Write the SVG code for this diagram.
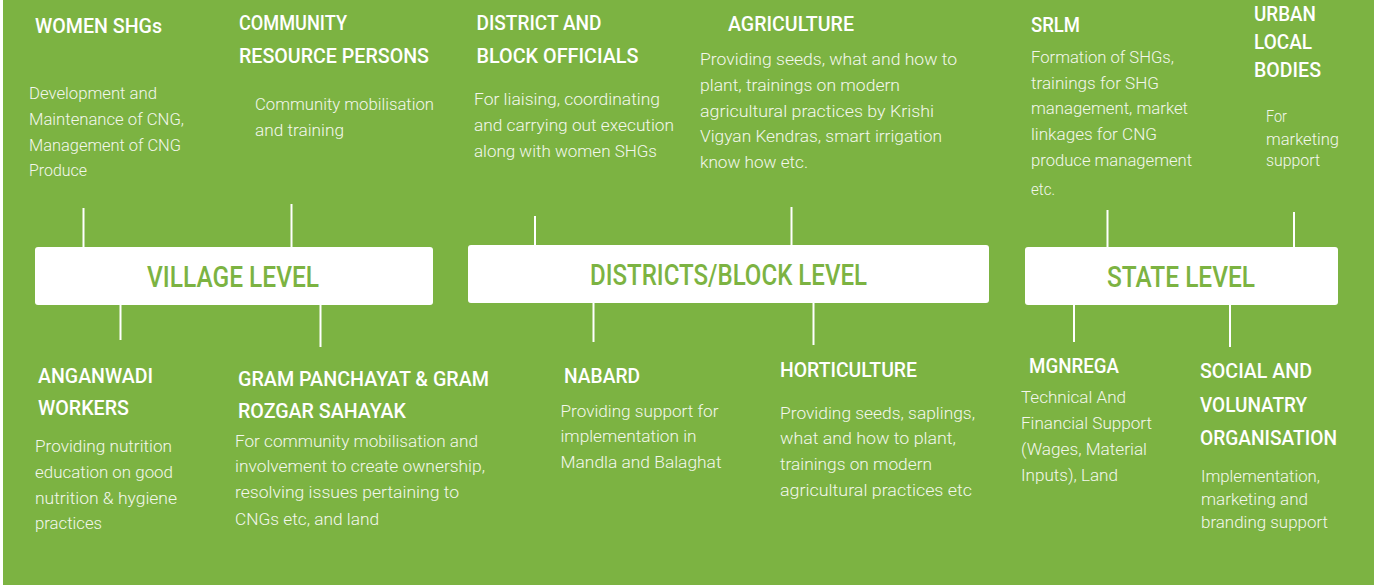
<svg xmlns="http://www.w3.org/2000/svg" width="1374" height="586" viewBox="0 0 1374 586">
<style>
.bg{fill:#7cb342}
.box{fill:#ffffff}
.h{font-family:Roboto,"Liberation Sans",sans-serif;font-weight:500;font-size:21px;fill:#ffffff}
.b{font-family:Roboto,"Liberation Sans",sans-serif;font-weight:300;font-size:17px;fill:#f3f7ec}
.lv{font-family:Roboto,"Liberation Sans",sans-serif;font-weight:500;font-size:29px;fill:#7cb342}
.c line{stroke:#ffffff;stroke-width:2}
</style>
<rect x="0" y="0" width="1374" height="586" fill="#ffffff"/>
<rect class="bg" x="3" y="0" width="1371" height="585"/>

<g class="c" id="connectors">
<line x1="83.5" y1="208" x2="83.5" y2="247"/>
<line x1="291.5" y1="204" x2="291.5" y2="247"/>
<line x1="120.5" y1="305" x2="120.5" y2="340"/>
<line x1="320.5" y1="305" x2="320.5" y2="347"/>
<line x1="535" y1="216" x2="535" y2="245"/>
<line x1="791.5" y1="207" x2="791.5" y2="245"/>
<line x1="593.5" y1="303" x2="593.5" y2="342"/>
<line x1="813.5" y1="303" x2="813.5" y2="345"/>
<line x1="1107.5" y1="210" x2="1107.5" y2="247"/>
<line x1="1294" y1="212" x2="1294" y2="247"/>
<line x1="1074" y1="305" x2="1074" y2="342"/>
<line x1="1230" y1="305" x2="1230" y2="347"/>
</g>

<g id="village-level">
<rect class="box" x="35" y="247" width="398" height="58" rx="3"/>
<text class="lv" x="147" y="287" textLength="172" lengthAdjust="spacingAndGlyphs">VILLAGE LEVEL</text>
</g>
<g id="district-level">
<rect class="box" x="468" y="245" width="521" height="58" rx="3"/>
<text class="lv" x="590" y="285" textLength="277" lengthAdjust="spacingAndGlyphs">DISTRICTS/BLOCK LEVEL</text>
</g>
<g id="state-level">
<rect class="box" x="1025" y="247" width="313" height="58" rx="3"/>
<text class="lv" x="1107" y="287" textLength="148" lengthAdjust="spacingAndGlyphs">STATE LEVEL</text>
</g>

<g id="women-shgs">
<text class="h" x="35" y="33" textLength="127" lengthAdjust="spacingAndGlyphs">WOMEN SHGs</text>
<text class="b" x="29" y="99" textLength="128" lengthAdjust="spacingAndGlyphs">Development and</text>
<text class="b" x="29" y="125" textLength="155" lengthAdjust="spacingAndGlyphs">Maintenance of CNG,</text>
<text class="b" x="29" y="151" textLength="152" lengthAdjust="spacingAndGlyphs">Management of CNG</text>
<text class="b" x="29" y="176" textLength="58" lengthAdjust="spacingAndGlyphs">Produce</text>
</g>

<g id="community-resource-persons">
<text class="h" x="239" y="30" textLength="108" lengthAdjust="spacingAndGlyphs">COMMUNITY</text>
<text class="h" x="239" y="63" textLength="190" lengthAdjust="spacingAndGlyphs">RESOURCE PERSONS</text>
<text class="b" x="255" y="110" textLength="179" lengthAdjust="spacingAndGlyphs">Community mobilisation</text>
<text class="b" x="255" y="136" textLength="89" lengthAdjust="spacingAndGlyphs">and training</text>
</g>

<g id="district-block-officials">
<text class="h" x="476.5" y="30" textLength="125" lengthAdjust="spacingAndGlyphs">DISTRICT AND</text>
<text class="h" x="476.5" y="63" textLength="162" lengthAdjust="spacingAndGlyphs">BLOCK OFFICIALS</text>
<text class="b" x="474" y="105" textLength="186" lengthAdjust="spacingAndGlyphs">For liaising, coordinating</text>
<text class="b" x="474" y="131" textLength="200" lengthAdjust="spacingAndGlyphs">and carrying out execution</text>
<text class="b" x="474" y="157" textLength="183" lengthAdjust="spacingAndGlyphs">along with women SHGs</text>
</g>

<g id="agriculture">
<text class="h" x="728" y="31" textLength="126" lengthAdjust="spacingAndGlyphs">AGRICULTURE</text>
<text class="b" x="700" y="65" textLength="257" lengthAdjust="spacingAndGlyphs">Providing seeds, what and how to</text>
<text class="b" x="700" y="91" textLength="200" lengthAdjust="spacingAndGlyphs">plant, trainings on modern</text>
<text class="b" x="700" y="117" textLength="234" lengthAdjust="spacingAndGlyphs">agricultural practices by Krishi</text>
<text class="b" x="700" y="142" textLength="242" lengthAdjust="spacingAndGlyphs">Vigyan Kendras, smart irrigation</text>
<text class="b" x="700" y="168" textLength="108" lengthAdjust="spacingAndGlyphs">know how etc.</text>
</g>

<g id="srlm">
<text class="h" x="1031" y="32" textLength="49" lengthAdjust="spacingAndGlyphs">SRLM</text>
<text class="b" x="1031" y="63" textLength="143" lengthAdjust="spacingAndGlyphs">Formation of SHGs,</text>
<text class="b" x="1031" y="89" textLength="128" lengthAdjust="spacingAndGlyphs">trainings for SHG</text>
<text class="b" x="1031" y="114" textLength="157" lengthAdjust="spacingAndGlyphs">management, market</text>
<text class="b" x="1031" y="140" textLength="126" lengthAdjust="spacingAndGlyphs">linkages for CNG</text>
<text class="b" x="1031" y="166" textLength="161" lengthAdjust="spacingAndGlyphs">produce management</text>
<text class="b" x="1031" y="195" textLength="24" lengthAdjust="spacingAndGlyphs">etc.</text>
</g>

<g id="urban-local-bodies">
<text class="h" x="1254" y="21" textLength="62" lengthAdjust="spacingAndGlyphs">URBAN</text>
<text class="h" x="1254" y="49" textLength="58" lengthAdjust="spacingAndGlyphs">LOCAL</text>
<text class="h" x="1254" y="77" textLength="67" lengthAdjust="spacingAndGlyphs">BODIES</text>
<text class="b" x="1266" y="122" textLength="21" lengthAdjust="spacingAndGlyphs">For</text>
<text class="b" x="1266" y="145" textLength="73" lengthAdjust="spacingAndGlyphs">marketing</text>
<text class="b" x="1266" y="166" textLength="54" lengthAdjust="spacingAndGlyphs">support</text>
</g>

<g id="anganwadi-workers">
<text class="h" x="38" y="383" textLength="115" lengthAdjust="spacingAndGlyphs">ANGANWADI</text>
<text class="h" x="38" y="415" textLength="91" lengthAdjust="spacingAndGlyphs">WORKERS</text>
<text class="b" x="35" y="452" textLength="137" lengthAdjust="spacingAndGlyphs">Providing nutrition</text>
<text class="b" x="35" y="478" textLength="138" lengthAdjust="spacingAndGlyphs">education on good</text>
<text class="b" x="35" y="504" textLength="142" lengthAdjust="spacingAndGlyphs">nutrition &amp; hygiene</text>
<text class="b" x="35" y="529" textLength="67" lengthAdjust="spacingAndGlyphs">practices</text>
</g>

<g id="gram-panchayat">
<text class="h" x="238" y="386" textLength="251" lengthAdjust="spacingAndGlyphs">GRAM PANCHAYAT &amp; GRAM</text>
<text class="h" x="238" y="418" textLength="168" lengthAdjust="spacingAndGlyphs">ROZGAR SAHAYAK</text>
<text class="b" x="235" y="447" textLength="243" lengthAdjust="spacingAndGlyphs">For community mobilisation and</text>
<text class="b" x="235" y="472" textLength="250" lengthAdjust="spacingAndGlyphs">involvement to create ownership,</text>
<text class="b" x="235" y="498" textLength="224" lengthAdjust="spacingAndGlyphs">resolving issues pertaining to</text>
<text class="b" x="235" y="525" textLength="144" lengthAdjust="spacingAndGlyphs">CNGs etc, and land</text>
</g>

<g id="nabard">
<text class="h" x="564" y="383" textLength="76" lengthAdjust="spacingAndGlyphs">NABARD</text>
<text class="b" x="560.5" y="417" textLength="158" lengthAdjust="spacingAndGlyphs">Providing support for</text>
<text class="b" x="560.5" y="442" textLength="136" lengthAdjust="spacingAndGlyphs">implementation in</text>
<text class="b" x="560.5" y="468" textLength="161" lengthAdjust="spacingAndGlyphs">Mandla and Balaghat</text>
</g>

<g id="horticulture">
<text class="h" x="780" y="377" textLength="137" lengthAdjust="spacingAndGlyphs">HORTICULTURE</text>
<text class="b" x="780" y="419" textLength="195" lengthAdjust="spacingAndGlyphs">Providing seeds, saplings,</text>
<text class="b" x="780" y="444" textLength="176" lengthAdjust="spacingAndGlyphs">what and how to plant,</text>
<text class="b" x="780" y="470" textLength="152" lengthAdjust="spacingAndGlyphs">trainings on modern</text>
<text class="b" x="780" y="496" textLength="192" lengthAdjust="spacingAndGlyphs">agricultural practices etc</text>
</g>

<g id="mgnrega">
<text class="h" x="1029" y="373" textLength="90" lengthAdjust="spacingAndGlyphs">MGNREGA</text>
<text class="b" x="1021" y="403" textLength="105" lengthAdjust="spacingAndGlyphs">Technical And</text>
<text class="b" x="1021" y="429" textLength="131" lengthAdjust="spacingAndGlyphs">Financial Support</text>
<text class="b" x="1021" y="455" textLength="126" lengthAdjust="spacingAndGlyphs">(Wages, Material</text>
<text class="b" x="1021" y="481" textLength="97" lengthAdjust="spacingAndGlyphs">Inputs), Land</text>
</g>

<g id="social-voluntary-organisation">
<text class="h" x="1200" y="378" textLength="112" lengthAdjust="spacingAndGlyphs">SOCIAL AND</text>
<text class="h" x="1200" y="412" textLength="107" lengthAdjust="spacingAndGlyphs">VOLUNATRY</text>
<text class="h" x="1200" y="445" textLength="137" lengthAdjust="spacingAndGlyphs">ORGANISATION</text>
<text class="b" x="1201" y="482" textLength="119" lengthAdjust="spacingAndGlyphs">Implementation,</text>
<text class="b" x="1201" y="505" textLength="107" lengthAdjust="spacingAndGlyphs">marketing and</text>
<text class="b" x="1201" y="528" textLength="127" lengthAdjust="spacingAndGlyphs">branding support</text>
</g>
</svg>
